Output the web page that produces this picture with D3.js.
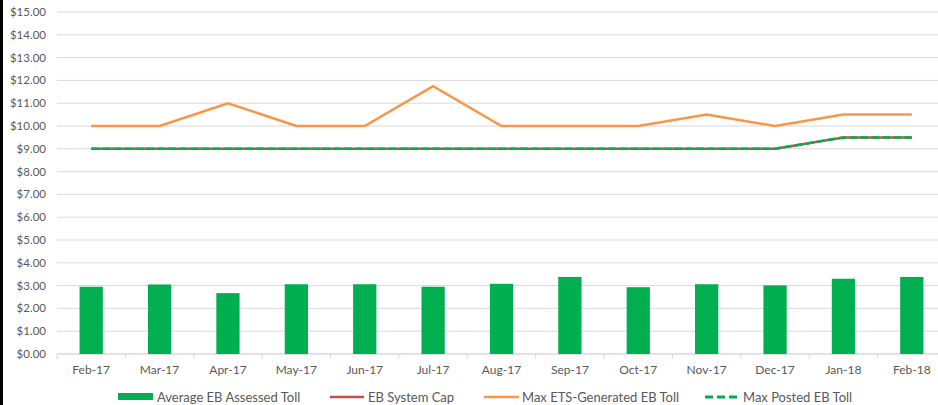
<!DOCTYPE html>
<html lang="en">
<head>
  <meta charset="UTF-8">
  <style>
    body { margin: 0; background: #fff; }
    svg { display: block; font-family: "Lato", "DejaVu Sans", sans-serif; }
    .lbl { fill: #595959; font-size: 11.5px; }
    .xl { font-size: 12px; }
    .leg { fill: #595959; font-size: 13px; }
  </style>
</head>
<body>
  <svg class="chart"></svg>
  <script src="https://cdnjs.cloudflare.com/ajax/libs/d3/7.8.5/d3.min.js"></script>
  <script>
    const months = ['Feb-17', 'Mar-17', 'Apr-17', 'May-17', 'Jun-17', 'Jul-17', 'Aug-17',
      'Sep-17', 'Oct-17', 'Nov-17', 'Dec-17', 'Jan-18', 'Feb-18']
    const avgAssessed = [2.95, 3.05, 2.67, 3.06, 3.06, 2.95, 3.08, 3.38, 2.93, 3.06, 3.01, 3.30, 3.38]
    const systemCap = [9, 9, 9, 9, 9, 9, 9, 9, 9, 9, 9, 9.5, 9.5]
    const maxEts = [10, 10, 11, 10, 10, 11.75, 10, 10, 10, 10.5, 10, 10.5, 10.5]
    const maxPosted = [9, 9, 9, 9, 9, 9, 9, 9, 9, 9, 9, 9.5, 9.5]
    const yTicks = d3.range(0, 16, 1)

    const chart = { width: 938, height: 405 }
    const plot = { left: 57, right: 946, top: 12, bottom: 354 }

    const svg = d3.select('.chart')
      .attr('width', chart.width)
      .attr('height', chart.height)

    // black edge on the left
    svg.append('rect').attr('x', 0).attr('y', 0).attr('width', 3).attr('height', chart.height).attr('fill', '#000')

    const x = d3.scaleBand()
      .domain(months)
      .range([plot.left, plot.right])
      .paddingInner(0.66)
      .paddingOuter(0.33)

    const xc = d => x(d) + x.bandwidth() / 2

    const y = d3.scaleLinear()
      .domain([0, 15])
      .range([plot.bottom, plot.top])

    // gridlines
    svg.append('g')
      .selectAll('line')
      .data(yTicks)
      .join('line')
        .attr('x1', plot.left)
        .attr('x2', plot.right)
        .attr('y1', d => y(d))
        .attr('y2', d => y(d))
        .attr('stroke', '#d9d9d9')
        .attr('stroke-width', 1)

    // y labels
    svg.append('g')
      .selectAll('text')
      .data(yTicks)
      .join('text')
        .attr('class', 'lbl')
        .attr('x', 46)
        .attr('y', d => y(d))
        .attr('dy', '0.35em')
        .attr('text-anchor', 'end')
        .text(d => '$' + d.toFixed(2))

    // x axis
    const xAxis = svg.append('g')
      .attr('transform', `translate(0,${plot.bottom})`)
    xAxis.append('line')
      .attr('x1', plot.left).attr('x2', plot.right)
      .attr('stroke', '#d9d9d9')
    const step = x.step()
    xAxis.selectAll('line.tk')
      .data(d3.range(months.length + 1))
      .join('line')
        .attr('class', 'tk')
        .attr('x1', i => plot.left + i * step)
        .attr('x2', i => plot.left + i * step)
        .attr('y1', 0).attr('y2', 5)
        .attr('stroke', '#d9d9d9')
    xAxis.selectAll('text')
      .data(months)
      .join('text')
        .attr('class', 'lbl xl')
        .attr('x', d => xc(d))
        .attr('y', 20)
        .attr('text-anchor', 'middle')
        .text(d => d)

    // bars
    svg.append('g')
      .selectAll('rect')
      .data(avgAssessed)
      .join('rect')
        .attr('x', (d, i) => x(months[i]))
        .attr('y', d => y(d))
        .attr('width', x.bandwidth())
        .attr('height', d => y(0) - y(d))
        .attr('fill', '#00b050')

    const line = d3.line()
      .x((d, i) => xc(months[i]))
      .y(d => y(d))

    svg.append('path').datum(maxEts)
      .attr('d', line).attr('fill', 'none')
      .attr('stroke', '#f79646').attr('stroke-width', 2.5)

    svg.append('path').datum(systemCap)
      .attr('d', line).attr('fill', 'none')
      .attr('stroke', '#c0504d').attr('stroke-width', 2.5)

    svg.append('path').datum(maxPosted)
      .attr('d', line).attr('fill', 'none')
      .attr('stroke', '#00b050').attr('stroke-width', 2.5)
      .attr('stroke-dasharray', '8,3')

    // legend
    const legend = svg.append('g').attr('transform', 'translate(0,397)')
    legend.append('rect').attr('x', 118).attr('y', -4).attr('width', 35).attr('height', 7).attr('fill', '#00b050')
    legend.append('text').attr('class', 'leg').attr('x', 157).attr('dy', '0.35em').text('Average EB Assessed Toll')
    legend.append('line').attr('x1', 330).attr('x2', 364).attr('stroke', '#c0504d').attr('stroke-width', 2.5)
    legend.append('text').attr('class', 'leg').attr('x', 368).attr('dy', '0.35em').text('EB System Cap')
    legend.append('line').attr('x1', 484).attr('x2', 519).attr('stroke', '#f79646').attr('stroke-width', 2.5)
    legend.append('text').attr('class', 'leg').attr('x', 522).attr('dy', '0.35em').text('Max ETS-Generated EB Toll')
    legend.append('line').attr('x1', 705).attr('x2', 738).attr('stroke', '#00b050').attr('stroke-width', 3)
      .attr('stroke-dasharray', '8,4')
    legend.append('text').attr('class', 'leg').attr('x', 743).attr('dy', '0.35em').text('Max Posted EB Toll')
  </script>
</body>
</html>
